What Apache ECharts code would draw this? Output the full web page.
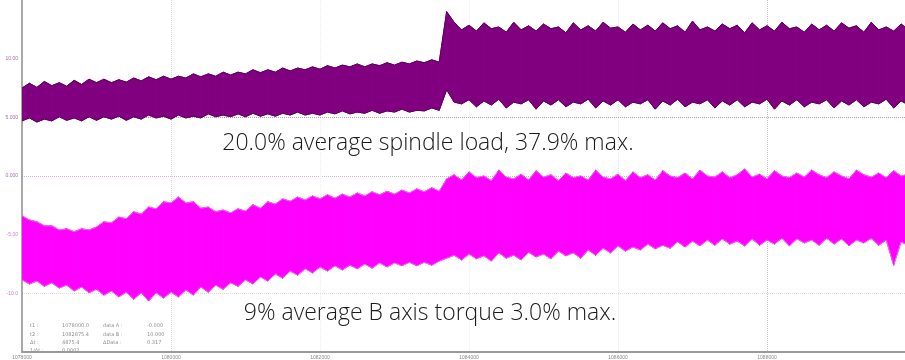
<!DOCTYPE html>
<html>
<head>
<meta charset="utf-8">
<script src="https://cdn.jsdelivr.net/npm/echarts@6/dist/echarts.min.js"></script>
<style>
  html, body { margin: 0; padding: 0; background: #fff; }
  #chart { width: 905px; height: 360px; }
</style>
</head>
<body>
<div id="chart"></div>
<script>
// time step between envelope samples and visible span of the x axis
const SAMPLE_STEP = 50;
const X_MAX = 5926;

const xTickLabels = ['1078000', '1080000', '1082000', '1084000', '1086000', '1088000'];
const yTickLabels = ['', '-10.0', '-5.00', '0.000', '5.000', '10.00', ''];

// spindle load trace (upper, purple): envelope max / min per sample
const spindleHigh = [
  45.0, 45.8, 45.1, 46.1, 45.4, 45.9, 45.3, 46.3, 45.6, 46.5,
  45.9, 46.5, 45.9, 46.4, 46.0, 46.7, 46.2, 46.9, 46.4, 47.0,
  46.5, 47.0, 46.7, 47.4, 46.9, 47.4, 47.0, 47.7, 47.2, 47.7,
  47.4, 48.1, 47.6, 48.1, 47.7, 48.4, 47.9, 48.4, 48.1, 48.6,
  48.2, 48.8, 48.4, 48.9, 48.6, 49.1, 48.6, 49.1, 48.8, 49.3,
  48.9, 49.4, 49.1, 49.6, 49.3, 49.8, 49.4,
  58.0, 56.2,
  54.9, 55.7, 54.7, 56.1, 55.1, 55.4, 54.5, 56.2, 54.9, 55.6,
  54.7, 55.9, 55.1, 55.4, 54.4, 56.1, 54.9, 55.6, 54.7, 56.2,
  55.2, 55.4, 54.5, 55.9, 54.9, 55.7, 54.7, 56.1, 55.1, 55.6,
  54.5, 56.4, 54.9, 55.4, 54.7, 55.9, 55.1, 55.7, 54.4, 56.1,
  54.9, 55.6, 54.7, 56.2, 55.1, 55.4, 54.5, 55.9, 54.9, 55.7,
  54.7, 56.1, 55.2, 55.6, 54.5, 56.2, 54.9, 55.4, 54.7, 55.9,
  54.9
];
const spindleLow = [
  39.4, 39.9, 39.2, 39.7, 39.4, 40.1, 39.5, 39.9, 39.4, 40.1,
  39.5, 40.1, 39.7, 40.2, 39.5, 40.1, 39.7, 40.4, 39.9, 40.2,
  39.7, 40.4, 39.9, 40.2, 39.9, 40.6, 40.1, 40.4, 40.1, 40.6,
  40.1, 40.7, 40.2, 40.6, 40.2, 40.7, 40.4, 40.9, 40.4, 40.7,
  40.4, 40.9, 40.6, 41.1, 40.6, 40.9, 40.7, 41.2, 40.7, 41.1,
  40.9, 41.4, 40.9, 41.2, 41.1, 41.6, 41.2,
  44.7, 42.6,
  42.3, 43.0, 41.8, 42.8, 42.1, 43.1, 41.6, 42.6, 42.3, 43.0,
  41.4, 42.8, 42.1, 43.0, 41.8, 42.6, 42.3, 43.1, 41.6, 42.8,
  42.1, 43.0, 41.8, 42.6, 42.3, 43.0, 41.4, 42.8, 42.1, 43.1,
  41.8, 42.6, 42.3, 43.0, 41.6, 42.8, 42.1, 43.0, 41.8, 42.6,
  42.3, 43.1, 41.4, 42.8, 42.1, 43.0, 41.8, 42.6, 42.3, 43.0,
  41.6, 42.8, 42.1, 43.0, 41.8, 42.6, 42.3, 43.1, 41.6, 42.8,
  42.1
];

// B axis torque trace (lower, magenta)
const torqueHigh = [
  23.2, 22.5, 22.2, 21.5, 21.5, 20.8, 21.0, 20.5, 21.0, 20.8,
  21.3, 22.2, 22.0, 23.0, 22.7, 23.9, 23.5, 24.7, 24.4, 25.6,
  25.4, 26.4, 25.4, 25.6, 24.5, 24.7, 23.9, 24.2, 23.7, 24.4,
  24.0, 25.1, 24.5, 25.6, 25.2, 26.1, 25.7, 26.4, 25.9, 26.6,
  26.1, 26.8, 26.2, 26.9, 26.4, 27.1, 26.6, 27.3, 26.8, 27.4,
  26.9, 27.6, 27.1, 27.8, 27.3, 28.0, 27.4,
  29.5,
  30.2, 29.3, 30.7, 29.7, 30.0, 29.2, 31.0, 29.8, 29.5, 30.3,
  29.3, 30.9, 29.8, 30.2, 29.2, 30.5, 29.7, 30.0, 29.3, 31.0,
  29.8, 29.5, 30.3, 29.2, 30.7, 29.7, 30.2, 29.3, 30.9, 30.0,
  29.7, 30.5, 29.5, 31.0, 30.0, 29.8, 30.7, 29.7, 30.2, 31.2,
  29.8, 30.3, 29.5, 30.9, 30.0, 29.7, 30.5, 29.8, 31.0, 30.2,
  29.7, 30.7, 30.0, 29.5, 31.0, 30.2, 29.8, 30.5, 29.7, 30.9,
  30.0, 30.3
];
const torqueLow = [
  12.3, 11.6, 12.1, 11.2, 11.8, 10.9, 11.4, 10.4, 11.1, 10.1,
  10.7, 9.7, 10.4, 9.4, 10.2, 9.0, 10.1, 8.7, 10.1, 9.2,
  10.2, 9.4, 10.6, 9.7, 11.1, 10.2, 11.4, 10.7, 11.8, 11.2,
  12.3, 11.6, 12.8, 12.1, 13.3, 12.6, 13.8, 13.1, 14.2, 13.5,
  14.5, 13.8, 14.7, 14.0, 14.8, 14.2, 15.0, 14.3, 15.2, 14.5,
  15.2, 14.7, 15.3, 14.7, 15.3, 14.8, 15.5,
  16.0,
  16.5, 15.7, 16.7, 15.9, 16.4, 15.5, 16.9, 16.0, 16.5, 15.7,
  17.0, 16.2, 16.7, 15.9, 17.2, 16.4, 16.9, 16.0, 17.4, 16.5,
  17.7, 16.9, 18.1, 17.2, 17.9, 17.4, 18.4, 17.6, 18.2, 17.7,
  18.8, 17.9, 18.9, 18.1, 19.1, 18.2, 19.3, 18.4, 18.9, 18.1,
  19.3, 18.2, 19.1, 18.4, 19.4, 18.1, 19.3, 18.6, 19.1, 18.2,
  19.4, 18.4, 19.3, 18.1, 19.1, 18.6, 19.4, 18.2, 19.1, 14.8,
  18.8, 18.1
];

const readoutRows = [
  ['t1 :', '1078000.0', 'data A :', '-0.000'],
  ['t2 :', '1082875.4', 'data B :', '10.000'],
  ['\u0394t :', '4875.4', '\u0394Data :', '0.317'],
  ['1/\u0394t :', '0.0002', '', '']
];

const annotations = [
  '20.0% average spindle load, 37.9% max.',
  '9% average B axis torque 3.0% max.'
];

// one item per segment between two consecutive samples: [x0, hi0, lo0, x1, hi1, lo1]
function segments(high, low) {
  const out = [];
  for (let i = 0; i < high.length - 1; i++) {
    out.push([i * SAMPLE_STEP, high[i], low[i], (i + 1) * SAMPLE_STEP, high[i + 1], low[i + 1]]);
  }
  return out;
}

function band(name, high, low, fill, edge) {
  return {
    name: name,
    type: 'custom',
    clip: true,
    z: 3,
    silent: true,
    encode: { x: [0, 3], y: [1, 2, 4, 5] },
    data: segments(high, low),
    renderItem: (params, api) => {
      const a = api.coord([api.value(0), api.value(1)]);
      const b = api.coord([api.value(3), api.value(4)]);
      const c = api.coord([api.value(3), api.value(5)]);
      const d = api.coord([api.value(0), api.value(2)]);
      return {
        type: 'group',
        children: [
          { type: 'polygon', shape: { points: [a, b, c, d] }, style: { fill: fill, stroke: fill, lineWidth: 1 } },
          { type: 'line', shape: { x1: a[0], y1: a[1], x2: b[0], y2: b[1] }, style: { stroke: edge, lineWidth: 1 } },
          { type: 'line', shape: { x1: d[0], y1: d[1], x2: c[0], y2: c[1] }, style: { stroke: edge, lineWidth: 1 } }
        ]
      };
    }
  };
}

const readoutGraphics = [];
const colX = [30, 62, 103, 147];
readoutRows.forEach((row, r) => {
  row.forEach((t, c) => {
    if (!t) return;
    readoutGraphics.push({
      type: 'text', x: colX[c], y: 326 + r * 8.3,
      style: { text: t, fontSize: 5, fontFamily: 'DejaVu Sans', fill: '#8c8c8c', verticalAlign: 'middle' }
    });
  });
});

const textFont = '"Open Sans", "Liberation Sans", sans-serif';

const chart = echarts.init(document.getElementById('chart'), null, { renderer: 'canvas' });
chart.setOption({
  animation: false,
  backgroundColor: '#fff',
  grid: { left: 22, right: 0, top: 0, bottom: 8 },
  xAxis: {
    type: 'value', min: 0, max: X_MAX, interval: 1000,
    axisLine: { lineStyle: { color: '#9a9a9a', width: 2 } },
    axisTick: { show: false },
    axisLabel: {
      fontSize: 5, color: '#8a8a8a', margin: 3, showMaxLabel: false,
      formatter: (v) => (v % 1000 === 0 && xTickLabels[v / 1000]) || ''
    },
    splitLine: {
      show: true,
      lineStyle: {
        type: 'dotted', width: 1,
        color: ['transparent', '#d8d8d8', '#eeeeee', '#eeeeee', '#e8e8e8', '#bdbdbd', 'transparent']
      }
    }
  },
  yAxis: {
    type: 'value', min: 0, max: 60, interval: 10,
    axisLine: { show: true, lineStyle: { color: '#8c8c8c', width: 1.5 } },
    axisTick: { show: false },
    axisLabel: {
      fontSize: 5, margin: 4,
      color: (v) => (v >= 30 ? '#a070a0' : '#d080d0'),
      formatter: (v) => yTickLabels[Math.round(v / 10)] || ''
    },
    splitLine: {
      show: true,
      lineStyle: {
        type: 'dotted', width: 1,
        color: ['transparent', '#dcdcdc', 'transparent', '#d4b4d4', '#b8a0b8', 'transparent', 'transparent']
      }
    }
  },
  series: [
    band('spindle load', spindleHigh, spindleLow, '#800080', '#5e005e'),
    band('B axis torque', torqueHigh, torqueLow, '#ff00ff', '#ee66ee')
  ],
  graphic: [
    {
      type: 'text', x: 428, y: 143,
      style: {
        text: annotations[0], fontSize: 23, fontFamily: textFont, fontWeight: 300,
        fill: '#1a1a1a', align: 'center', verticalAlign: 'middle'
      }
    },
    {
      type: 'text', x: 430, y: 313,
      style: {
        text: annotations[1], fontSize: 23, fontFamily: textFont, fontWeight: 300,
        fill: '#1a1a1a', align: 'center', verticalAlign: 'middle'
      }
    },
    ...readoutGraphics
  ]
});
</script>
</body>
</html>
